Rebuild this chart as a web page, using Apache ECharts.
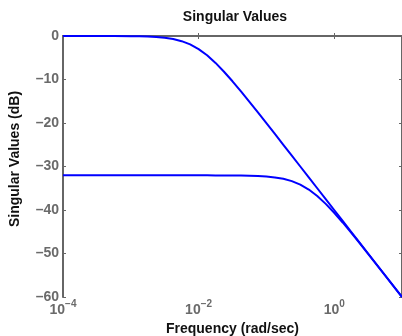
<!DOCTYPE html>
<html>
<head>
<meta charset="utf-8">
<script src="https://cdn.jsdelivr.net/npm/echarts@6/dist/echarts.min.js"></script>
<style>html,body{margin:0;padding:0;background:#fff}#c{width:402px;height:336px}</style>
</head>
<body>
<div id="c"></div>
<script>
// Frequencies (rad/sec)
var freq = [1e-4, 1.778e-4, 3.162e-4, 5.623e-4, 1e-3, 1.334e-3, 1.778e-3, 2.371e-3, 3.162e-3, 4.217e-3,
  5.623e-3, 7.499e-3, 1e-2, 1.334e-2, 1.778e-2, 2.371e-2, 3.162e-2, 4.217e-2, 5.623e-2, 7.499e-2,
  0.1, 0.1334, 0.1778, 0.2371, 0.3162, 0.4217, 0.5623, 0.7499, 1, 1.334, 1.778, 2.371, 3.162, 5.623, 10];
// Upper singular value (dB)
var sv1 = [0, 0, 0, -0.01, -0.04, -0.08, -0.14, -0.24, -0.41, -0.71,
  -1.19, -1.94, -3.01, -4.44, -6.19, -8.21, -10.41, -12.74, -15.13, -17.58,
  -20.04, -22.52, -25.01, -27.51, -30.0, -32.5, -35.0, -37.5, -40.0, -42.5, -45.0, -47.5, -50.0, -55.0, -60.0];
// Lower singular value (dB)
var sv2 = [-32.04, -32.04, -32.04, -32.04, -32.04, -32.04, -32.04, -32.04, -32.04, -32.04,
  -32.04, -32.04, -32.04, -32.04, -32.05, -32.06, -32.07, -32.09, -32.13, -32.19,
  -32.31, -32.51, -32.83, -33.37, -34.17, -35.29, -36.80, -38.59, -40.64, -42.87, -45.21, -47.62, -50.07, -55.02, -60.01];
var xTickValues = [1e-4, 1e-2, 1];
var xInnerTicks = [1e-2, 1];

var FONT = '"Liberation Sans", Arial, Helvetica, sans-serif';
var AX = '#666666';
var LBL = '#6a6a6a';

function pairs(xs, ys) { return xs.map(function (x, i) { return [x, ys[i]]; }); }

var chart = echarts.init(document.getElementById('c'), null, { renderer: 'canvas' });
chart.setOption({
  animation: false,
  textStyle: { fontFamily: FONT },
  title: {
    text: 'Singular Values', left: 230, top: 5, textAlign: 'center',
    textStyle: { fontSize: 14, fontWeight: 'bold', color: '#111', fontFamily: FONT }
  },
  graphic: [{
    type: 'text', x: 15, y: 159, rotation: Math.PI / 2,
    style: {
      text: 'Singular Values (dB)', fill: '#111', font: 'bold 14px ' + FONT,
      textAlign: 'center', textVerticalAlign: 'middle'
    }
  }],
  grid: { left: 63, right: 0, top: 36, bottom: 39, containLabel: false, outerBoundsMode: 'none' },
  xAxis: [{
    type: 'log', logBase: 10, min: 1e-4, max: 10, position: 'bottom',
    name: 'Frequency (rad/sec)', nameLocation: 'middle', nameGap: 23,
    nameTextStyle: { fontSize: 14, fontWeight: 'bold', color: '#111', fontFamily: FONT },
    axisLine: { show: true, lineStyle: { color: AX, width: 2 } },
    axisTick: { show: true, inside: true, length: 3, lineStyle: { color: AX, width: 1 }, customValues: xInnerTicks },
    splitLine: { show: false },
    axisLabel: {
      customValues: xTickValues, margin: -2,
      formatter: function (v) {
        var e = Math.round(Math.log10(v));
        return '{b|10}{s|' + (e < 0 ? '\u2212' + (-e) : e) + '}';
      },
      rich: {
        b: { fontSize: 14, fontWeight: 'bold', color: LBL, fontFamily: FONT, padding: [8, 0, 0, 0] },
        s: { fontSize: 10, fontWeight: 'bold', color: LBL, fontFamily: FONT, padding: [0, 0, 4, 0] }
      }
    }
  }, {
    type: 'log', logBase: 10, min: 1e-4, max: 10, position: 'top',
    axisLine: { show: true, lineStyle: { color: AX, width: 2 } },
    axisTick: { show: true, inside: true, length: 3, lineStyle: { color: AX, width: 1 }, customValues: xInnerTicks },
    axisLabel: { show: false }, splitLine: { show: false }
  }],
  yAxis: [{
    type: 'value', min: -60, max: 0, interval: 10, position: 'left',
    axisLine: { show: true, lineStyle: { color: AX, width: 2 } },
    axisTick: { show: true, inside: true, length: 3, lineStyle: { color: AX, width: 1 } },
    splitLine: { show: false },
    axisLabel: {
      fontSize: 14, fontWeight: 'bold', color: LBL, fontFamily: FONT, margin: 4,
      formatter: function (v) { return v < 0 ? '\u2013' + (-v) : String(v); }
    }
  }, {
    type: 'value', min: -60, max: 0, interval: 10, position: 'right',
    axisLine: { show: true, lineStyle: { color: AX, width: 2 } },
    axisTick: { show: true, inside: true, length: 3, lineStyle: { color: AX, width: 1 } },
    axisLabel: { show: false }, splitLine: { show: false }
  }],
  series: [{
    type: 'line', xAxisIndex: 0, yAxisIndex: 0, data: pairs(freq, sv1),
    showSymbol: false, smooth: false, clip: true,
    lineStyle: { color: '#0000ff', width: 2 }
  }, {
    type: 'line', xAxisIndex: 0, yAxisIndex: 0, data: pairs(freq, sv2),
    showSymbol: false, smooth: false, clip: true,
    lineStyle: { color: '#0000ff', width: 2 }
  }]
});
</script>
</body>
</html>
